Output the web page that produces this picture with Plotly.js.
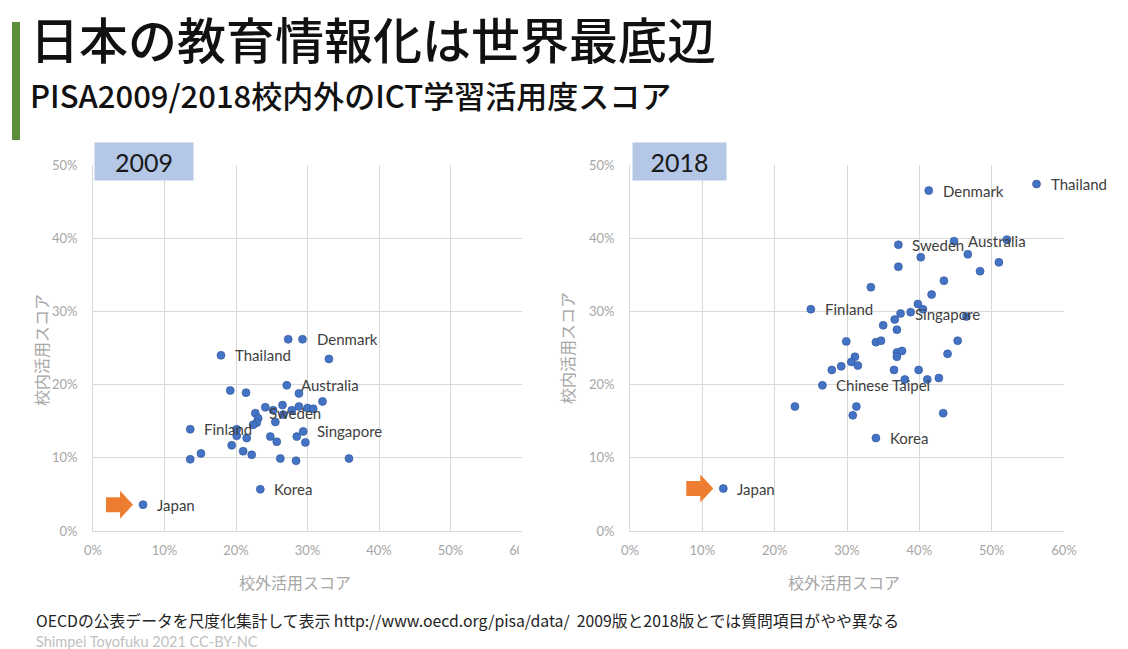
<!DOCTYPE html>
<html><head><meta charset="utf-8">
<script src="https://cdn.plot.ly/plotly-3.0.1.min.js"></script>
<style>html,body{margin:0;padding:0;background:#fff;}#chart{width:1128px;height:649px;}</style>
</head><body><div id="chart"></div>
<script>
// ---- data (percent) ----
const x2009 = [27.3,29.3,17.9,33.0,27.1,28.8,19.2,21.4,32.1,24.1,25.2,26.5,28.8,30.0,30.8,27.8,22.7,23.1,22.9,22.4,25.5,26.6,13.6,20.1,20.1,21.5,19.4,21.0,22.2,15.1,13.6,24.8,25.7,28.5,29.4,29.7,26.2,28.4,35.8,23.4,7.0];
const y2009 = [26.2,26.2,24.0,23.5,19.9,18.8,19.2,18.9,17.7,16.9,16.5,17.2,17.0,16.8,16.7,16.5,16.1,15.4,14.8,14.5,14.9,15.9,13.9,13.9,13.0,12.7,11.7,10.9,10.4,10.6,9.8,12.9,12.2,12.9,13.6,12.1,9.9,9.6,9.9,5.7,3.6];
const names2009 = ['','Denmark','Thailand','','Australia','','','','','','','','','','','','Sweden','','','','','','Finland','','','','','','','','','','','','Singapore','','','','','Korea','Japan'];

const x2018 = [41.3,56.2,37.1,44.8,52.1,46.7,40.2,51.0,48.4,37.1,43.4,33.3,41.7,25.0,39.8,40.5,38.8,37.4,36.6,46.5,35.0,36.9,45.3,29.9,34.0,34.7,36.9,37.6,36.9,43.9,31.1,30.6,31.5,29.2,27.9,36.5,39.9,41.1,42.7,38.0,26.6,22.8,31.3,30.8,43.3,34.0,12.9];
const y2018 = [46.5,47.4,39.1,39.6,39.8,37.8,37.4,36.7,35.5,36.1,34.2,33.3,32.3,30.3,31.0,30.3,29.9,29.7,28.9,29.3,28.1,27.5,26.0,25.9,25.8,26.0,24.4,24.6,23.8,24.2,23.8,23.1,22.6,22.5,22.0,22.0,22.0,20.7,20.9,20.7,19.9,17.0,17.0,15.8,16.1,12.7,5.8];
const names2018 = ['Denmark','Thailand','Sweden','Australia','','','','','','','','','','Finland','','','','Singapore','','','','','','','','','','','','','','','','','','','','','','','Chinese Taipei','','','','','Korea','Japan'];

const xTickVals = [0,10,20,30,40,50,60];
const yTickVals = [0,10,20,30,40,50];
const xTickText = ['0%','10%','20%','30%','40%','50%','60%'];
const yTickText = ['0%','10%','20%','30%','40%','50%'];
const panelYears = ['2009','2018'];
const titleText = '日本の教育情報化は世界最底辺';
const subtitleText = 'PISA2009/2018校内外のICT学習活用度スコア';
const xTitle = '校外活用スコア';
const yTitle = '校内活用スコア';
const footer1 = 'OECDの公表データを尺度化集計して表示 http://www.oecd.org/pisa/data/&nbsp;&nbsp;2009版と2018版とでは質問項目がやや異なる';
const footer2 = 'Shimpei Toyofuku 2021 CC-BY-NC';

// ---- layout geometry ----
const W = 1128, H = 649;
const px = v => v / W, py = v => 1 - v / H;
const leftDom = [px(93), px(522)];
const rightDom = [px(630), px(1064)];
const yDom = [py(531), py(165)];

const blue = '#4472c4';
const markerStyle = {color: blue, size: 8, line: {color: '#2f5597', width: 0.6}};

const traces = [
  {type: 'scatter', mode: 'markers', x: x2009, y: y2009, xaxis: 'x', yaxis: 'y', marker: markerStyle, hoverinfo: 'skip'},
  {type: 'scatter', mode: 'markers', x: x2018, y: y2018, xaxis: 'x2', yaxis: 'y2', marker: markerStyle, hoverinfo: 'skip'}
];

const gridCol = '#d9d9d9';
const tickCol = '#a6a6a6';
function xAxis(dom) {
  return {domain: dom, range: [0, 60], tickvals: xTickVals, ticktext: xTickText, showgrid: true, gridcolor: gridCol, gridwidth: 1,
    zeroline: false, showline: true, linecolor: gridCol, ticks: '', ticklabelstandoff: 7,
    tickfont: {family: 'Lato, sans-serif', size: 13, color: tickCol}, fixedrange: true};
}
function yAxis(anchor) {
  return {domain: yDom, anchor: anchor, range: [0, 50], tickvals: yTickVals, ticktext: yTickText, showgrid: true, gridcolor: gridCol, gridwidth: 1,
    zeroline: false, showline: true, linecolor: gridCol, ticks: '', ticklabelstandoff: 12,
    tickfont: {family: 'Lato, sans-serif', size: 13, color: tickCol}, fixedrange: true};
}

const annotations = [];
function addLabels(xs, ys, names, xr, yr) {
  names.forEach((n, i) => {
    if (!n) return;
    annotations.push({xref: xr, yref: yr, x: xs[i], y: ys[i], text: n, showarrow: false, xanchor: 'left', yanchor: 'middle',
      xshift: 12, font: {family: 'Lato, sans-serif', size: 15, color: '#404040'}});
  });
}
addLabels(x2009, y2009, names2009, 'x', 'y');
addLabels(x2018, y2018, names2018, 'x2', 'y2');

const cjk = '"Noto Sans CJK JP", sans-serif';
annotations.push(
  {xref: 'paper', yref: 'paper', x: px(28), y: py(37), xanchor: 'left', yanchor: 'middle', showarrow: false, text: titleText,
    font: {family: cjk, size: 49, color: '#111', weight: 500}},
  {xref: 'paper', yref: 'paper', x: px(28), y: py(94.5), xanchor: 'left', yanchor: 'middle', showarrow: false, text: subtitleText,
    font: {family: cjk, size: 31, color: '#111', weight: 500}},
  {xref: 'paper', yref: 'paper', x: px(144), y: py(161.5), xanchor: 'center', yanchor: 'middle', showarrow: false, text: panelYears[0],
    bgcolor: '#b4c7e7', width: 98, height: 37, borderpad: 0, font: {family: 'Lato, sans-serif', size: 25, color: '#1a1a1a'}},
  {xref: 'paper', yref: 'paper', x: px(679.5), y: py(161.5), xanchor: 'center', yanchor: 'middle', showarrow: false, text: panelYears[1],
    bgcolor: '#b4c7e7', width: 93, height: 37, borderpad: 0, font: {family: 'Lato, sans-serif', size: 25, color: '#1a1a1a'}},
  {xref: 'paper', yref: 'paper', x: px(295), y: py(582), xanchor: 'center', yanchor: 'middle', showarrow: false, text: xTitle,
    font: {family: cjk, size: 16, color: tickCol}},
  {xref: 'paper', yref: 'paper', x: px(844), y: py(582), xanchor: 'center', yanchor: 'middle', showarrow: false, text: xTitle,
    font: {family: cjk, size: 16, color: tickCol}},
  {xref: 'paper', yref: 'paper', x: px(41), y: py(350), xanchor: 'center', yanchor: 'middle', showarrow: false, text: yTitle, textangle: -90,
    font: {family: cjk, size: 16, color: tickCol}},
  {xref: 'paper', yref: 'paper', x: px(567), y: py(348), xanchor: 'center', yanchor: 'middle', showarrow: false, text: yTitle, textangle: -90,
    font: {family: cjk, size: 16, color: tickCol}},
  {xref: 'paper', yref: 'paper', x: px(34), y: py(620), xanchor: 'left', yanchor: 'middle', showarrow: false, text: footer1,
    font: {family: cjk, size: 15.8, color: '#222'}},
  {xref: 'paper', yref: 'paper', x: px(34), y: py(641), xanchor: 'left', yanchor: 'middle', showarrow: false, text: footer2,
    font: {family: 'Lato, sans-serif', size: 14.5, color: '#c0c0c0'}}
);

// orange arrows pointing at Japan
function arrowPath(xs, ys, names, kx, ky) {
  const i = names.indexOf('Japan');
  const tip = xs[i] - 10 * kx, yc = ys[i];
  const neck = tip - 13 * kx, tail = tip - 27 * kx;
  const hb = 7.5 * ky, hh = 14 * ky;
  return `M${tail},${yc + hb} L${neck},${yc + hb} L${neck},${yc + hh} L${tip},${yc} L${neck},${yc - hh} L${neck},${yc - hb} L${tail},${yc - hb} Z`;
}
const kxL = 60 / 429, kxR = 60 / 434, ky = 50 / 366;
const shapes = [
  {type: 'rect', xref: 'paper', yref: 'paper', x0: px(12), x1: px(20), y0: py(140), y1: py(22), fillcolor: '#5b8f3a', line: {width: 0}},
  {type: 'path', xref: 'x', yref: 'y', path: arrowPath(x2009, y2009, names2009, kxL, ky), fillcolor: '#ed7d31', line: {width: 0}},
  {type: 'path', xref: 'x2', yref: 'y2', path: arrowPath(x2018, y2018, names2018, kxR, ky), fillcolor: '#ed7d31', line: {width: 0}},
  // the left panel's last tick label is cut off in the original
  {type: 'rect', xref: 'paper', yref: 'paper', layer: 'above', x0: px(519), x1: px(548), y0: py(565), y1: py(540), fillcolor: '#ffffff', line: {width: 0}}
];

const layout = {
  width: W, height: H, margin: {l: 0, r: 0, t: 0, b: 0}, paper_bgcolor: '#fff', plot_bgcolor: '#fff', showlegend: false,
  xaxis: xAxis(leftDom), yaxis: yAxis('x'),
  xaxis2: Object.assign(xAxis(rightDom), {anchor: 'y2'}), yaxis2: yAxis('x2'),
  annotations: annotations, shapes: shapes
};
layout.xaxis.anchor = 'y';
Plotly.newPlot('chart', traces, layout, {displayModeBar: false, staticPlot: true});
</script></body></html>
